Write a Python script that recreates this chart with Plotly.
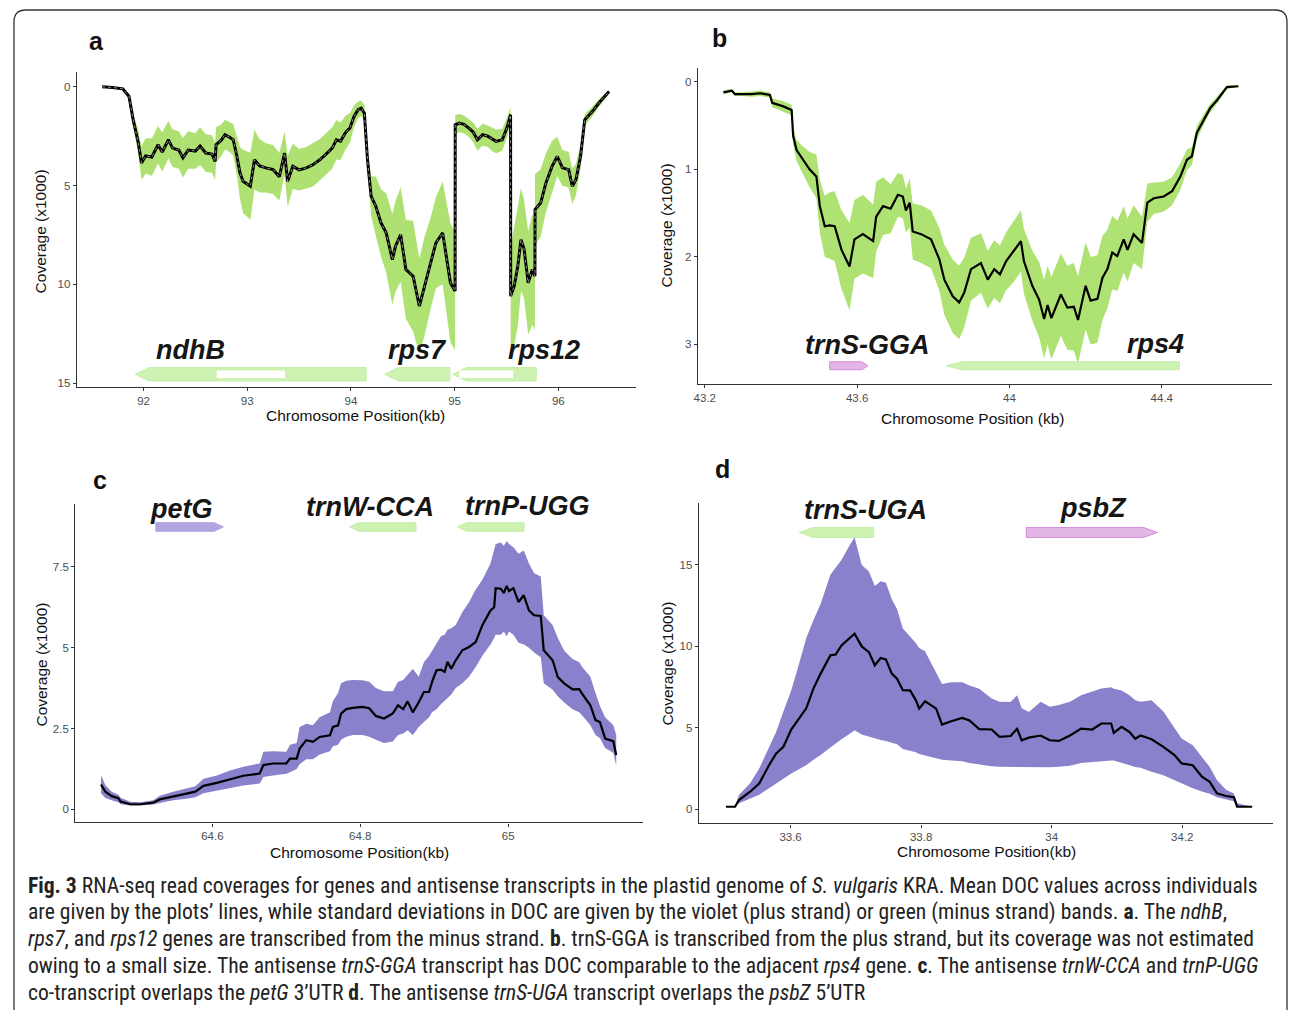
import plotly.graph_objects as go

W, H = 1290, 1012

# ---------------- data: panel a (ndhB / rps7 / rps12) ----------------
pos_a = [91.60, 91.70, 91.80, 91.86, 91.90, 91.95, 91.98, 92.02, 92.08, 92.14, 92.18, 92.24, 92.28, 92.34,
         92.38, 92.43, 92.50, 92.545, 92.60, 92.66, 92.69, 92.70, 92.75, 92.785, 92.83, 92.865, 92.90, 92.93,
         92.96, 93.03, 93.07, 93.12, 93.18, 93.25, 93.31, 93.36, 93.39, 93.44, 93.50, 93.57, 93.63, 93.70,
         93.76, 93.82, 93.86, 93.90, 93.95, 93.99, 94.03, 94.07, 94.10, 94.13, 94.16, 94.195, 94.24, 94.29,
         94.34, 94.40, 94.43, 94.48, 94.53, 94.60, 94.66, 94.71, 94.77, 94.82, 94.885, 94.915, 94.96, 95.005,
         95.006, 95.045, 95.09, 95.14, 95.18, 95.22, 95.27, 95.32, 95.36, 95.40, 95.46, 95.51, 95.54,
         95.541, 95.575, 95.61, 95.64, 95.67, 95.71, 95.75, 95.775, 95.776, 95.83, 95.88, 95.94, 95.99,
         96.04, 96.10, 96.135, 96.17, 96.215, 96.255, 96.33, 96.39, 96.49]
mean_a = [0.00, 0.03, 0.10, 0.49, 1.67, 2.84, 3.85, 3.50, 3.55, 2.93, 3.30, 2.68, 3.10, 3.20,
          3.59, 3.20, 3.25, 3.00, 3.35, 3.40, 3.77, 2.93, 2.70, 2.42, 2.55, 2.68, 3.50, 4.35,
          4.78, 5.03, 3.69, 4.00, 4.10, 4.19, 4.55, 3.35, 4.78, 4.02, 4.20, 4.10, 3.95, 3.69,
          3.40, 3.10, 2.68, 2.75, 2.30, 2.09, 1.50, 1.16, 1.08, 1.33, 3.69, 5.53, 6.04, 6.88,
          7.39, 8.74, 8.06, 7.48, 9.24, 9.58, 11.09, 10.08, 8.90, 7.89, 7.39, 8.40, 9.92, 10.33,
          1.92, 1.83, 1.90, 2.10, 2.30, 2.68, 2.42, 2.50, 2.65, 2.76, 2.68, 2.00, 1.41,
          10.59, 10.08, 9.07, 7.73, 8.20, 9.92, 9.24, 9.58, 6.21, 5.88, 4.87, 4.03, 3.52,
          4.10, 4.19, 5.03, 4.70, 3.52, 1.67, 1.24, 0.83, 0.24]
sd_a = [0.02, 0.03, 0.05, 0.15, 0.35, 0.60, 0.85, 0.90, 0.95, 0.95, 1.00, 0.95, 0.95, 0.95,
        1.00, 0.95, 0.90, 0.95, 0.95, 0.95, 0.95, 0.90, 0.80, 0.75, 0.75, 0.80, 1.00, 1.30,
        1.60, 1.70, 1.50, 1.35, 1.25, 1.25, 1.20, 1.10, 1.30, 1.15, 1.05, 1.05, 1.10, 1.05,
        1.05, 1.05, 1.00, 0.95, 0.85, 0.75, 0.55, 0.42, 0.38, 0.42, 0.60, 1.00, 1.50, 1.70,
        2.00, 2.30, 2.30, 2.40, 2.50, 2.80, 2.40, 2.50, 2.30, 2.30, 2.60, 2.80, 3.00, 3.00,
        0.50, 0.45, 0.45, 0.45, 0.50, 0.55, 0.55, 0.55, 0.60, 0.60, 0.55, 0.50, 0.40,
        2.50, 3.00, 3.00, 2.60, 2.50, 2.60, 2.80, 2.70, 1.80, 1.70, 1.50, 1.30, 1.00,
        0.90, 0.90, 0.90, 0.80, 0.60, 0.30, 0.25, 0.20, 0.10]
gene_a_name = ["ndhB", "rps7", "rps12"]
gene_a_start = [91.920, 94.324, 94.981]
gene_a_end = [94.147, 94.955, 95.788]
gene_a_strand = ["-", "-", "-"]
intron_a_start = [92.705, 95.045]
intron_a_end = [93.365, 95.564]

# ---------------- data: panel b (trnS-GGA / rps4) ----------------
pos_b = [43.249, 43.262, 43.271, 43.279, 43.300, 43.323, 43.345, 43.371, 43.377, 43.406, 43.428, 43.432,
         43.441, 43.454, 43.475, 43.493, 43.502, 43.515, 43.528, 43.541, 43.559, 43.580, 43.593, 43.615,
         43.642, 43.650, 43.668, 43.688, 43.707, 43.720, 43.728, 43.738, 43.746, 43.768, 43.794, 43.816,
         43.829, 43.851, 43.868, 43.881, 43.899, 43.925, 43.943, 43.960, 43.975, 43.991, 44.012, 44.030,
         44.038, 44.060, 44.078, 44.091, 44.100, 44.110, 44.135, 44.152, 44.169, 44.180, 44.200, 44.213,
         44.231, 44.244, 44.257, 44.270, 44.283, 44.300, 44.310, 44.326, 44.348, 44.362, 44.379, 44.405,
         44.427, 44.449, 44.466, 44.479, 44.492, 44.510, 44.527, 44.545, 44.571, 44.601]
mean_b = [0.12, 0.11, 0.10, 0.14, 0.14, 0.14, 0.13, 0.15, 0.24, 0.28, 0.32, 0.62,
          0.78, 0.87, 1.00, 1.08, 1.42, 1.65, 1.64, 1.65, 1.92, 2.11, 1.80, 1.74,
          1.82, 1.54, 1.42, 1.45, 1.29, 1.31, 1.47, 1.38, 1.71, 1.74, 1.80, 2.03,
          2.26, 2.45, 2.52, 2.41, 2.14, 2.07, 2.26, 2.14, 2.20, 2.05, 1.93, 1.82,
          2.05, 2.33, 2.49, 2.71, 2.55, 2.70, 2.43, 2.58, 2.57, 2.72, 2.33, 2.50,
          2.48, 2.24, 2.14, 1.95, 1.99, 1.80, 1.92, 1.74, 1.84, 1.38, 1.33, 1.31,
          1.25, 1.08, 0.89, 0.85, 0.58, 0.43, 0.30, 0.21, 0.06, 0.05]
sd_b = [0.02, 0.02, 0.02, 0.02, 0.02, 0.03, 0.03, 0.03, 0.05, 0.06, 0.06, 0.10,
        0.12, 0.15, 0.20, 0.25, 0.30, 0.35, 0.38, 0.40, 0.45, 0.50, 0.45, 0.45,
        0.42, 0.40, 0.33, 0.28, 0.25, 0.25, 0.25, 0.28, 0.32, 0.33, 0.33, 0.36,
        0.40, 0.42, 0.42, 0.40, 0.36, 0.34, 0.33, 0.33, 0.33, 0.33, 0.35, 0.35,
        0.37, 0.40, 0.43, 0.45, 0.45, 0.47, 0.47, 0.48, 0.50, 0.50, 0.50, 0.50,
        0.50, 0.48, 0.45, 0.42, 0.40, 0.38, 0.36, 0.33, 0.30, 0.22, 0.18, 0.17,
        0.16, 0.15, 0.12, 0.10, 0.08, 0.06, 0.05, 0.04, 0.02, 0.01]
gene_b_name = ["trnS-GGA", "rps4"]
gene_b_start = [43.528, 43.834]
gene_b_end = [43.628, 44.446]
gene_b_strand = ["+", "-"]

# ---------------- data: panel c (petG / trnW-CCA / trnP-UGG) ----------------
pos_c = [64.4495, 64.4554, 64.464, 64.473, 64.476, 64.489, 64.5026, 64.520, 64.529, 64.547, 64.565,
         64.577, 64.588, 64.606, 64.624, 64.642, 64.664, 64.669, 64.682, 64.700, 64.705, 64.714,
         64.718, 64.727, 64.736, 64.745, 64.759, 64.763, 64.770, 64.774, 64.781, 64.790, 64.803,
         64.812, 64.821, 64.832, 64.844, 64.851, 64.858, 64.864, 64.871, 64.879, 64.886, 64.893,
         64.897, 64.903, 64.909, 64.914, 64.918, 64.923, 64.929, 64.938, 64.947, 64.956, 64.965,
         64.976, 64.981, 64.983, 64.990, 64.994, 64.998, 65.001, 65.007, 65.014, 65.021, 65.028,
         65.035, 65.044, 65.048, 65.060, 65.067, 65.076, 65.087, 65.096, 65.100, 65.111, 65.118,
         65.124, 65.131, 65.142, 65.146]
mean_c = [0.77, 0.55, 0.41, 0.35, 0.24, 0.16, 0.16, 0.21, 0.31, 0.41, 0.49,
          0.55, 0.73, 0.82, 0.94, 1.04, 1.11, 1.37, 1.42, 1.42, 1.57, 1.57,
          1.88, 2.14, 2.09, 2.24, 2.29, 2.55, 2.60, 2.96, 3.10, 3.14, 3.17,
          3.13, 2.89, 2.81, 2.97, 3.22, 3.10, 3.34, 3.00, 3.31, 3.63, 3.63,
          3.94, 4.30, 4.32, 4.25, 4.56, 4.35, 4.61, 4.92, 5.02, 5.17, 5.69,
          6.15, 6.25, 6.84, 6.82, 6.69, 6.91, 6.75, 6.84, 6.41, 6.62, 6.15,
          6.00, 5.98, 4.92, 4.61, 4.09, 3.89, 3.71, 3.72, 3.57, 3.22, 2.76,
          2.70, 2.19, 2.11, 1.68]
lower_c = [0.50, 0.35, 0.28, 0.22, 0.16, 0.12, 0.12, 0.15, 0.20, 0.28, 0.33,
           0.38, 0.50, 0.58, 0.66, 0.74, 0.80, 1.00, 1.05, 1.10, 1.15, 1.25,
           1.40, 1.55, 1.55, 1.70, 1.80, 1.95, 2.00, 2.15, 2.25, 2.30, 2.30,
           2.25, 2.15, 2.05, 2.10, 2.30, 2.35, 2.45, 2.30, 2.55, 2.70, 2.85,
           3.00, 3.10, 3.25, 3.35, 3.45, 3.55, 3.75, 3.90, 4.10, 4.40, 4.75,
           5.10, 5.30, 5.40, 5.40, 5.50, 5.35, 5.50, 5.40, 5.15, 5.10, 5.00,
           4.85, 4.70, 3.90, 3.70, 3.50, 3.30, 3.10, 3.00, 2.90, 2.60, 2.30,
           2.20, 1.90, 1.75, 1.35]
upper_c = [1.06, 0.75, 0.55, 0.45, 0.36, 0.24, 0.22, 0.28, 0.42, 0.55, 0.65,
           0.72, 0.95, 1.05, 1.20, 1.32, 1.42, 1.78, 1.80, 1.78, 2.00, 2.05,
           2.55, 2.65, 2.60, 2.85, 3.00, 3.35, 3.60, 3.90, 3.98, 4.00, 3.99,
           3.95, 3.75, 3.65, 3.65, 3.95, 4.00, 4.15, 4.35, 4.10, 4.55, 4.75,
           4.90, 5.10, 5.35, 5.40, 5.55, 5.60, 5.70, 6.10, 6.40, 6.80, 7.10,
           7.60, 8.00, 8.20, 8.25, 8.15, 8.30, 8.20, 8.10, 7.90, 8.00, 7.60,
           7.30, 7.20, 6.00, 5.70, 5.30, 4.90, 4.65, 4.55, 4.40, 4.10, 3.60,
           3.20, 2.85, 2.60, 2.30]
gene_c_name = ["petG", "trnW-CCA", "trnP-UGG"]
gene_c_start = [64.5236, 64.7856, 64.9315]
gene_c_end = [64.6148, 64.8753, 65.0214]
gene_c_strand = ["+", "-", "-"]

# ---------------- data: panel d (trnS-UGA / psbZ) ----------------
pos_d = [33.501, 33.515, 33.521, 33.538, 33.552, 33.567, 33.578, 33.589, 33.601, 33.612, 33.624,
         33.635, 33.646, 33.661, 33.669, 33.678, 33.689, 33.698, 33.709, 33.720, 33.729, 33.738,
         33.746, 33.755, 33.763, 33.772, 33.783, 33.792, 33.797, 33.806, 33.815, 33.823, 33.832,
         33.846, 33.863, 33.874, 33.889, 33.908, 33.920, 33.937, 33.947, 33.954, 33.965, 33.983,
         33.997, 34.011, 34.028, 34.045, 34.062, 34.076, 34.091, 34.095, 34.107, 34.119, 34.128,
         34.136, 34.153, 34.171, 34.188, 34.199, 34.216, 34.230, 34.242, 34.253, 34.267, 34.279,
         34.284, 34.307]
mean_d = [0.16, 0.16, 0.57, 1.08, 1.59, 2.71, 3.43, 3.84, 4.90, 5.50, 6.20,
          7.41, 8.33, 9.45, 9.50, 10.06, 10.47, 10.78, 10.00, 9.65, 8.84, 9.29,
          9.20, 8.33, 8.02, 7.31, 7.30, 6.69, 6.18, 6.63, 6.40, 6.18, 5.20,
          5.41, 5.61, 5.45, 4.92, 4.90, 4.45, 4.50, 4.94, 4.24, 4.40, 4.53,
          4.24, 4.20, 4.53, 4.96, 4.90, 5.27, 5.27, 4.69, 5.06, 4.75, 4.33,
          4.53, 4.30, 3.84, 3.33, 2.82, 2.71, 2.00, 1.69, 0.98, 0.82, 0.75,
          0.16, 0.16]
lower_d = [0.16, 0.16, 0.37, 0.65, 0.90, 1.30, 1.59, 1.90, 2.20, 2.45, 2.71,
           3.05, 3.33, 3.80, 4.05, 4.30, 4.60, 4.86, 4.60, 4.45, 4.35, 4.25,
           4.20, 4.10, 4.00, 3.70, 3.60, 3.50, 3.40, 3.30, 3.20, 3.12, 3.05,
           3.00, 2.95, 2.85, 2.75, 2.65, 2.62, 2.61, 2.60, 2.58, 2.57, 2.55,
           2.58, 2.62, 2.68, 2.85, 2.92, 2.95, 3.00, 3.00, 2.85, 2.70, 2.60,
           2.55, 2.30, 2.10, 1.80, 1.59, 1.30, 1.10, 0.95, 0.75, 0.60, 0.50,
           0.16, 0.16]
upper_d = [0.16, 0.20, 0.88, 1.60, 2.50, 3.80, 4.76, 6.00, 7.30, 8.80, 10.50,
           11.60, 12.60, 14.40, 14.80, 15.30, 16.10, 16.70, 15.00, 14.60, 13.70, 14.00,
           13.90, 12.90, 12.30, 11.10, 10.60, 10.20, 9.90, 9.70, 9.00, 8.40, 7.70,
           7.80, 7.80, 7.60, 7.40, 6.80, 6.60, 6.59, 7.00, 6.20, 5.98, 6.60,
           6.30, 6.40, 6.60, 7.00, 7.20, 7.41, 7.50, 7.40, 7.30, 7.00, 6.70,
           6.60, 6.69, 6.00, 5.00, 4.35, 3.94, 3.20, 2.60, 1.80, 1.20, 0.98,
           0.37, 0.16]
gene_d_name = ["trnS-UGA", "psbZ"]
gene_d_start = [33.6134, 33.961]
gene_d_end = [33.7273, 34.162]
gene_d_strand = ["-", "+"]

# tick labels
xt_a = [92, 93, 94, 95, 96]
yt_a = [0, 5, 10, 15]
xt_b = [43.2, 43.6, 44.0, 44.4]
xt_b_lab = ["43.2", "43.6", "44", "44.4"]
yt_b = [0, 1, 2, 3]
xt_c = [64.6, 64.8, 65.0]
xt_c_lab = ["64.6", "64.8", "65"]
yt_c = [0, 2.5, 5, 7.5]
yt_c_lab = ["0", "2.5", "5", "7.5"]
xt_d = [33.6, 33.8, 34.0, 34.2]
xt_d_lab = ["33.6", "33.8", "34", "34.2"]
yt_d = [0, 5, 10, 15]

# ---------------- styles ----------------
GREEN_BAND = "#aee272"
VIOLET_BAND = "#8981cc"
MINUS_GENE = "#cdf2b2"
MINUS_EDGE = "#c4edaa"
PETG_GENE = "#b3a4e2"
PINK_GENE = "#e3b6e6"
PINK_EDGE = "#d38dd9"
AXIS_COL = "#333333"
TICK_FONT = dict(family="Liberation Sans, Arial, sans-serif", size=11.5, color="#4d4d4d")
TITLE_FONT = dict(family="Liberation Sans, Arial, sans-serif", size=15.5, color="#111111")
GENE_FONT = dict(family="Liberation Sans, Arial, sans-serif", size=27, color="#161616")


def px(x):
    return x / W


def py(y):
    return 1 - y / H


panels = {
    "a": dict(xd=(73, 634), yd=(72, 388), xr=(91.356, 96.75), yr=(15.20, -0.758)),
    "b": dict(xd=(696, 1272), yd=(68, 385), xr=(43.1817, 44.6895), yr=(3.455, -0.16)),
    "c": dict(xd=(71.5, 641), yd=(505, 824), xr=(64.4147, 65.1822), yr=(-0.40, 9.44)),
    "d": dict(xd=(697, 1273), yd=(504, 825), xr=(33.4595, 34.339), yr=(-0.86, 18.8)),
}
suffix = {"a": "", "b": "2", "c": "3", "d": "4"}

fig = go.Figure()


def add_band(key, xs, lo, hi, color):
    s = suffix[key]
    fig.add_trace(go.Scatter(x=xs, y=lo, mode="lines", line=dict(width=0, color=color),
                             xaxis="x" + s, yaxis="y" + s, hoverinfo="skip"))
    fig.add_trace(go.Scatter(x=xs, y=hi, mode="lines", line=dict(width=0, color=color),
                             fill="tonexty", fillcolor=color,
                             xaxis="x" + s, yaxis="y" + s, hoverinfo="skip"))


def add_line(key, xs, ys, width=2.2):
    s = suffix[key]
    fig.add_trace(go.Scatter(x=xs, y=ys, mode="lines", line=dict(width=width, color="black"),
                             xaxis="x" + s, yaxis="y" + s, hoverinfo="skip"))


add_band("a", pos_a, [m - s for m, s in zip(mean_a, sd_a)], [m + s for m, s in zip(mean_a, sd_a)], GREEN_BAND)
add_line("a", pos_a, mean_a, 3.0)
fig.add_trace(go.Scatter(x=pos_a, y=mean_a, mode="lines", line=dict(width=0.8, color="white", dash="dot"),
                         xaxis="x", yaxis="y", hoverinfo="skip", opacity=0.7))
add_band("b", pos_b, [m - s for m, s in zip(mean_b, sd_b)], [m + s for m, s in zip(mean_b, sd_b)], GREEN_BAND)
add_line("b", pos_b, mean_b, 2.2)
add_band("c", pos_c, lower_c, upper_c, VIOLET_BAND)
add_line("c", pos_c, mean_c, 2.2)
add_band("d", pos_d, lower_d, upper_d, VIOLET_BAND)
add_line("d", pos_d, mean_d, 2.2)

shapes = []
annotations = []


def scale(key):
    p = panels[key]
    xpp = (p["xr"][1] - p["xr"][0]) / (p["xd"][1] - p["xd"][0])
    ypp = abs(p["yr"][1] - p["yr"][0]) / (p["yd"][1] - p["yd"][0])
    return xpp, ypp


def arrow(key, start, end, strand, yc_px, half_px, head_px, fill, edge):
    p = panels[key]
    xpp, ypp = scale(key)
    y0p, y1p = p["yd"]
    r0, r1 = p["yr"]
    yc = r1 + (yc_px - y0p) / (y1p - y0p) * (r0 - r1)
    h = half_px * ypp
    hd = min(head_px * xpp, (end - start) * 0.6)
    if strand == "-":
        pts = [(start, yc), (start + hd, yc - h), (end, yc - h), (end, yc + h), (start + hd, yc + h)]
    else:
        pts = [(start, yc - h), (end - hd, yc - h), (end, yc), (end - hd, yc + h), (start, yc + h)]
    path = "M " + " L ".join(f"{x:.5f},{y:.5f}" for x, y in pts) + " Z"
    s = suffix[key]
    shapes.append(dict(type="path", path=path, xref="x" + s, yref="y" + s,
                       fillcolor=fill, line=dict(color=edge, width=1), layer="above"))
    return yc, h


def color_for(key, strand):
    if strand == "-":
        return MINUS_GENE, MINUS_EDGE
    if key == "c":
        return PETG_GENE, PETG_GENE
    return PINK_GENE, PINK_EDGE


gene_sets = {
    "a": (gene_a_start, gene_a_end, gene_a_strand, 375, 6.7, 14),
    "b": (gene_b_start, gene_b_end, gene_b_strand, 366.5, 4.0, 6),
    "c": (gene_c_start, gene_c_end, gene_c_strand, 528, 4.3, 9),
    "d": (gene_d_start, gene_d_end, gene_d_strand, 533.5, 5.0, 14),
}
head_override = {("b", 1): 16}
yca = 0
for key, (st, en, sd, ycp, hp, head) in gene_sets.items():
    for i, (a0, a1, strand) in enumerate(zip(st, en, sd)):
        f, e = color_for(key, strand)
        yc, h = arrow(key, a0, a1, strand, ycp, hp, head_override.get((key, i), head), f, e)
        if key == "a" and i == 0:
            yca = yc

# introns (white boxes) in panel a
xpp_a, ypp_a = scale("a")
for a0, a1 in zip(intron_a_start, intron_a_end):
    shapes.append(dict(type="rect", xref="x", yref="y", x0=a0, x1=a1,
                       y0=yca - 3.7 * ypp_a, y1=yca + 3.7 * ypp_a,
                       fillcolor="white", line=dict(width=0), layer="above"))

# gene labels (pixel centres of the reference)
gene_labels = [
    ("ndhB", 187, 351), ("rps7", 415, 351), ("rps12", 542, 351),
    ("trnS-GGA", 866, 346), ("rps4", 1155, 345),
    ("petG", 178, 510), ("trnW-CCA", 367, 508), ("trnP-UGG", 525, 507),
    ("trnS-UGA", 864, 511), ("psbZ", 1093, 509),
]
for name, gx, gy in gene_labels:
    annotations.append(dict(text=f"<b><i>{name}</i></b>", x=px(gx), y=py(gy), xref="paper", yref="paper",
                            showarrow=False, xanchor="center", yanchor="middle", font=GENE_FONT))

# panel letters
for letter, lx, ly in [("a", 93, 41), ("b", 718, 38), ("c", 96, 481), ("d", 721, 470)]:
    annotations.append(dict(text=f"<b>{letter}</b>", x=px(lx), y=py(ly), xref="paper", yref="paper",
                            showarrow=False, xanchor="center", yanchor="middle",
                            font=dict(family="Liberation Sans, Arial, sans-serif", size=25, color="#111111")))

# axis titles
for tx, ty in [(37, 232), (665, 226), (38, 666), (666, 665)]:
    annotations.append(dict(text="Coverage (x1000)", x=px(tx), y=py(ty), xref="paper", yref="paper",
                            showarrow=False, textangle=-90, xanchor="center", yanchor="middle", font=TITLE_FONT))
for txt, tx, ty in [("Chromosome Position(kb)", 353, 416), ("Chromosome Position (kb)", 972, 419),
                    ("Chromosome Position(kb)", 357, 854), ("Chromosome Position(kb)", 986, 853)]:
    annotations.append(dict(text=txt, x=px(tx), y=py(ty), xref="paper", yref="paper",
                            showarrow=False, xanchor="center", yanchor="middle", font=TITLE_FONT))

# caption
caption = [
    "<b>Fig. 3</b> RNA-seq read coverages for genes and antisense transcripts in the plastid genome of <i>S. vulgaris</i> KRA. Mean DOC values across individuals",
    "are given by the plots\u2019 lines, while standard deviations in DOC are given by the violet (plus strand) or green (minus strand) bands. <b>a</b>. The <i>ndhB</i>,",
    "<i>rps7</i>, and <i>rps12</i> genes are transcribed from the minus strand. <b>b</b>. trnS-GGA is transcribed from the plus strand, but its coverage was not estimated",
    "owing to a small size. The antisense <i>trnS-GGA</i> transcript has DOC comparable to the adjacent <i>rps4</i> gene. <b>c</b>. The antisense <i>trnW-CCA</i> and <i>trnP-UGG</i>",
    "co-transcript overlaps the <i>petG</i> 3\u2019UTR <b>d</b>. The antisense <i>trnS-UGA</i> transcript overlaps the <i>psbZ</i> 5\u2019UTR",
]
for i, line in enumerate(caption):
    annotations.append(dict(text=line, x=px(22), y=py(887 + i * 26.8), xref="paper", yref="paper",
                            showarrow=False, xanchor="left", yanchor="middle",
                            font=dict(family="Liberation Sans Narrow, Roboto Condensed, Liberation Sans, sans-serif",
                                      size=21.6, color="#222222")))

# frame around the figure
r = 12
frame = (f"M {px(10)},{py(1012)} L {px(10)},{py(10 + r)} Q {px(10)},{py(10)} {px(10 + r)},{py(10)} "
         f"L {px(1287 - r)},{py(10)} Q {px(1287)},{py(10)} {px(1287)},{py(10 + r)} L {px(1287)},{py(1012)}")
shapes.append(dict(type="path", path=frame, xref="paper", yref="paper", line=dict(color="#333333", width=1.3)))

layout = dict(width=W, height=H, margin=dict(l=0, r=0, t=0, b=0), paper_bgcolor="white",
              plot_bgcolor="white", showlegend=False, hovermode=False,
              shapes=shapes, annotations=annotations)

tick_cfg = {
    "a": (xt_a, [str(v) for v in xt_a], yt_a, [str(v) for v in yt_a]),
    "b": (xt_b, xt_b_lab, yt_b, [str(v) for v in yt_b]),
    "c": (xt_c, xt_c_lab, yt_c, yt_c_lab),
    "d": (xt_d, xt_d_lab, yt_d, [str(v) for v in yt_d]),
}
for key, p in panels.items():
    s = suffix[key]
    xv, xl, yv, yl = tick_cfg[key]
    common = dict(showgrid=False, zeroline=False, showline=True, linecolor=AXIS_COL, linewidth=1.3,
                  ticks="outside", ticklen=3, tickwidth=1, tickcolor=AXIS_COL, tickfont=TICK_FONT,
                  fixedrange=True)
    layout["xaxis" + s] = dict(domain=[px(p["xd"][0]), px(p["xd"][1])], range=list(p["xr"]),
                               anchor="y" + s, tickmode="array", tickvals=xv, ticktext=xl, **common)
    layout["yaxis" + s] = dict(domain=[py(p["yd"][1]), py(p["yd"][0])], range=list(p["yr"]),
                               anchor="x" + s, tickmode="array", tickvals=yv, ticktext=yl, **common)

fig.update_layout(**layout)
fig.write_html("out.html")
